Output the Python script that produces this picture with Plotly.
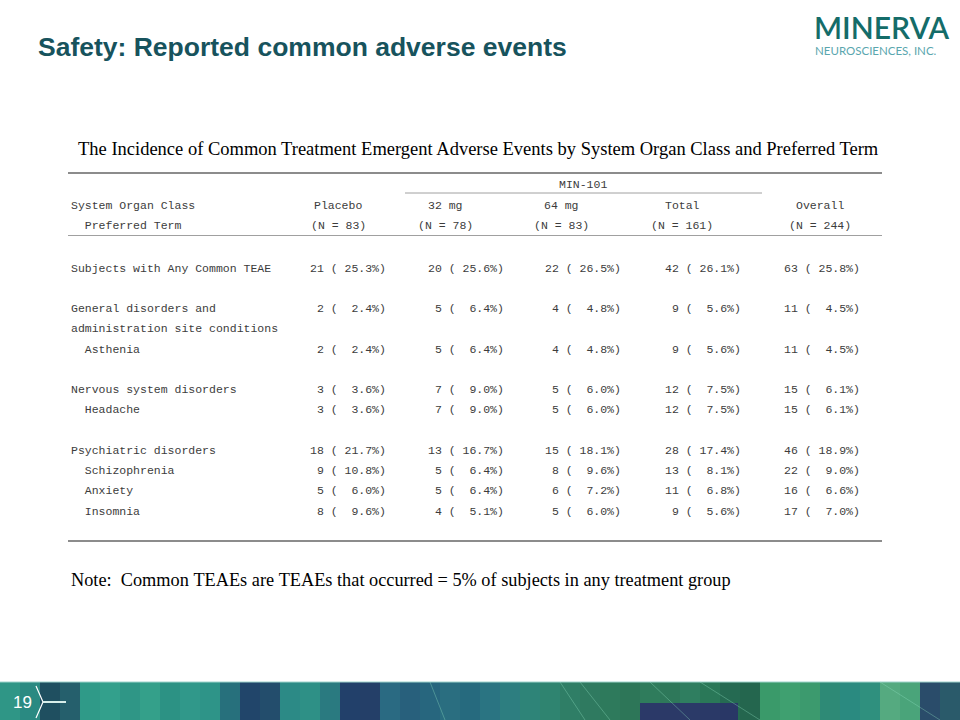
import plotly.graph_objects as go

# ---------------- data ----------------
row_labels = ["Subjects with Any Common TEAE", "General disorders and",
              "administration site conditions", "  Asthenia",
              "Nervous system disorders", "  Headache",
              "Psychiatric disorders", "  Schizophrenia", "  Anxiety", "  Insomnia"]
row_line = [0, 2, 3, 4, 6, 7, 9, 10, 11, 12]

placebo_n = [21, 2, None, 2, 3, 3, 18, 9, 5, 8]
placebo_pct = [25.3, 2.4, None, 2.4, 3.6, 3.6, 21.7, 10.8, 6.0, 9.6]
mg32_n = [20, 5, None, 5, 7, 7, 13, 5, 5, 4]
mg32_pct = [25.6, 6.4, None, 6.4, 9.0, 9.0, 16.7, 6.4, 6.4, 5.1]
mg64_n = [22, 4, None, 4, 5, 5, 15, 8, 6, 5]
mg64_pct = [26.5, 4.8, None, 4.8, 6.0, 6.0, 18.1, 9.6, 7.2, 6.0]
total_n = [42, 9, None, 9, 12, 12, 28, 13, 11, 9]
total_pct = [26.1, 5.6, None, 5.6, 7.5, 7.5, 17.4, 8.1, 6.8, 5.6]
overall_n = [63, 11, None, 11, 15, 15, 46, 22, 16, 17]
overall_pct = [25.8, 4.5, None, 4.5, 6.1, 6.1, 18.9, 9.0, 6.6, 7.0]

col_names = ["Placebo", "32 mg", "64 mg", "Total", "Overall"]
col_ns = ["(N = 83)", "(N = 78)", "(N = 83)", "(N = 161)", "(N = 244)"]
group_label = "MIN-101"

title = "Safety: Reported common adverse events"
table_title = "The Incidence of Common Treatment Emergent Adverse Events by System Organ Class and Preferred Term"
note = "Note:  Common TEAEs are TEAEs that occurred = 5% of subjects in any treatment group"
page_no = "19"

# ---------------- layout helpers ----------------
TEAL = "#17535d"
GRAY_TXT = "#3c3c3c"
LINE_GRAY = "#8c8c8c"
MONO = "Liberation Mono, Courier New, monospace"
SERIF = "Liberation Serif, Times New Roman, serif"

col_right = [388, 506, 623, 743, 862]
col_hdr_center = [338, 445, 561, 682, 820]
row_y0 = 268
row_h = 20.25

NB = "\u00a0"

def nb(s):
    return s.replace(" ", NB)

fig = go.Figure()
ann = []
shapes = []

# Slide title
ann.append(dict(x=36, y=47, text="<b>" + title + "</b>", xanchor="left", yanchor="middle",
                showarrow=False, font=dict(family="Liberation Sans, Arial", size=26.5, color=TEAL)))
# Logo
ann.append(dict(x=881, y=27, text="MINERVA", xanchor="center", yanchor="middle", showarrow=False,
                font=dict(family="Lato, Open Sans", size=30, color="#146c69", weight=600)))
ann.append(dict(x=876, y=50, text="NEUROSCIENCES, INC.",
                xanchor="center", yanchor="middle", showarrow=False,
                font=dict(family="Lato, Open Sans", size=11.5, color="#5aa6ae")))

# Table title
ann.append(dict(x=478, y=149, text=table_title, xanchor="center", yanchor="middle", showarrow=False,
                font=dict(family=SERIF, size=18.5, color="#000000")))

# Header
mono_font = dict(family=MONO, size=11.5, color=GRAY_TXT)
ann.append(dict(x=583, y=184, text=group_label, xanchor="center", yanchor="middle", showarrow=False,
                font=mono_font))
ann.append(dict(x=69, y=205, text="System Organ Class", xanchor="left", yanchor="middle",
                showarrow=False, font=mono_font))
ann.append(dict(x=69, y=225, text=nb("  Preferred Term"), xanchor="left", yanchor="middle",
                showarrow=False, font=mono_font))
for cx, nm, nn in zip(col_hdr_center, col_names, col_ns):
    ann.append(dict(x=cx, y=205, text=nm, xanchor="center", yanchor="middle", showarrow=False, font=mono_font))
    ann.append(dict(x=cx, y=225, text=nb(nn), xanchor="center", yanchor="middle", showarrow=False, font=mono_font))

# Body rows
cols = [(placebo_n, placebo_pct), (mg32_n, mg32_pct), (mg64_n, mg64_pct),
        (total_n, total_pct), (overall_n, overall_pct)]
for i, (lab, li) in enumerate(zip(row_labels, row_line)):
    y = row_y0 + li * row_h
    ann.append(dict(x=69, y=y, text=nb(lab), xanchor="left", yanchor="middle",
                    showarrow=False, font=mono_font))
    for (ns, ps), xr in zip(cols, col_right):
        if ns[i] is None:
            continue
        txt = "%2d (%5.1f%%)" % (ns[i], ps[i])
        ann.append(dict(x=xr, y=y, text=nb(txt), xanchor="right", yanchor="middle",
                        showarrow=False, font=mono_font))

# Note
ann.append(dict(x=69, y=580, text=nb(note), xanchor="left", yanchor="middle", showarrow=False,
                font=dict(family=SERIF, size=18.3, color="#000000")))

# Table rules
shapes.append(dict(type="line", x0=68, x1=882, y0=173, y1=173, line=dict(color=LINE_GRAY, width=2)))
shapes.append(dict(type="line", x0=405, x1=762, y0=193, y1=193, line=dict(color="#a0a0a0", width=1)))
shapes.append(dict(type="line", x0=68, x1=882, y0=235.5, y1=235.5, line=dict(color="#a0a0a0", width=1)))
shapes.append(dict(type="line", x0=68, x1=882, y0=541, y1=541, line=dict(color=LINE_GRAY, width=2)))

# Decorative footer strip (20px bands)
band_colors = ["#2f9686", "#2a8a82", "#1f4f60", "#255f6c", "#2f9a88", "#33a08c",
               "#2f9686", "#34a08a", "#2c9284", "#30988a", "#2e9488", "#27707c",
               "#21456a", "#234d6c", "#2c8a86", "#2e9086", "#2a7a80", "#22406a",
               "#243f68", "#2a6a82", "#28607c", "#27667e", "#2a6e80", "#266a7e",
               "#2a7482", "#2d7e80", "#2e8478", "#2f8470", "#2f7e66", "#2f7a60",
               "#2e7a5c", "#2d7658", "#2f7c5c", "#2e785a", "#2f7e60", "#2a7858",
               "#256a52", "#24664e", "#3a9a6a", "#3fa070", "#3c9a6e", "#2e8a76",
               "#2a8a80", "#2f907e", "#55aa80", "#4aa47a", "#2a4c6a", "#2a5a6a"]
bw = 960 / len(band_colors)
for k, c in enumerate(band_colors):
    shapes.append(dict(type="rect", x0=k * bw, x1=(k + 1) * bw + 0.5, y0=682, y1=720,
                       fillcolor=c, line=dict(width=0), layer="below"))
# dark patch and scratches
shapes.append(dict(type="rect", x0=640, x1=738, y0=703, y1=720, fillcolor="#2a2e6a",
                   opacity=0.85, line=dict(width=0), layer="below"))
for (xa, xb) in [(560, 585), (580, 610), (650, 690), (430, 445), (700, 760), (880, 940)]:
    shapes.append(dict(type="line", x0=xa, x1=xb, y0=682, y1=720,
                       line=dict(color="#8fe0c0", width=0.8), opacity=0.45))
shapes.append(dict(type="line", x0=0, x1=960, y0=682, y1=682, line=dict(color="#9fd4cc", width=1)))
# page marker
shapes.append(dict(type="path", path="M 36 686 L 43 702 L 36 718", line=dict(color="white", width=1.2)))
shapes.append(dict(type="line", x0=43, x1=66, y0=702, y1=702, line=dict(color="#d8eeea", width=2)))
ann.append(dict(x=22, y=702, text=page_no, xanchor="center", yanchor="middle", showarrow=False,
                font=dict(family="Liberation Sans, Arial", size=17, color="white")))

fig.update_layout(
    width=960, height=720,
    margin=dict(l=0, r=0, t=0, b=0),
    paper_bgcolor="white", plot_bgcolor="white",
    xaxis=dict(range=[0, 960], visible=False, fixedrange=True),
    yaxis=dict(range=[720, 0], visible=False, fixedrange=True),
    annotations=ann, shapes=shapes, showlegend=False,
)

fig.write_html("out.html", config={"displayModeBar": False},
               post_script="document.body.style.margin='0';document.body.style.overflow='hidden';")
